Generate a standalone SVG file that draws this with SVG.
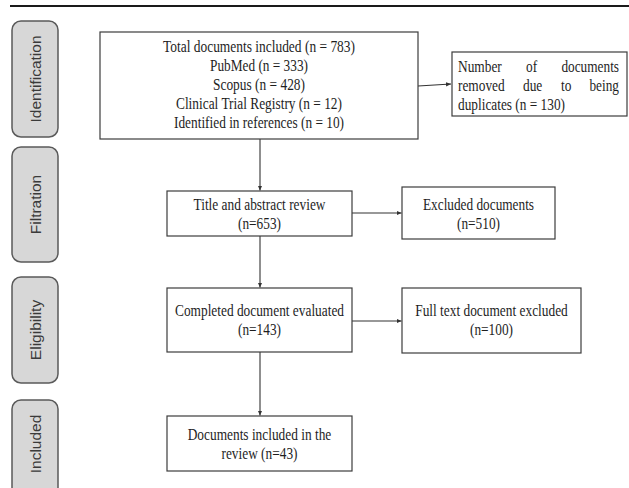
<svg xmlns="http://www.w3.org/2000/svg" width="629" height="488" viewBox="0 0 629 488">
<style>
.bg{fill:#ffffff}
.box{fill:#ffffff;stroke:#3c3c3c;stroke-width:1.2}
.pill{fill:#d7d7d7;stroke:#5a5a5a;stroke-width:1.5}
.t{font-family:"Liberation Serif","Times New Roman",serif;font-size:17.5px;fill:#1e1e1e}
.c{text-anchor:middle}
.e{text-anchor:end}
.s{font-family:"Liberation Sans",Arial,sans-serif;font-size:15.5px;fill:#3a3a3a;text-anchor:middle}
.conn{fill:none;stroke:#333333;stroke-width:1.1}
</style>
<defs>
<marker id="ah" markerWidth="6" markerHeight="6" refX="5" refY="3" orient="auto" markerUnits="userSpaceOnUse">
<path d="M0,0.8 L5,3 L0,5.2 Z" fill="#333333"/>
</marker>
</defs>
<rect class="bg" x="0" y="0" width="629" height="488"/>
<line x1="10" y1="6" x2="629" y2="6" stroke="#1a1a1a" stroke-width="2"/>

<g id="stage-identification">
<rect class="pill" x="12" y="21" width="46" height="116" rx="9"/>
<text class="s" transform="translate(40.5,79) rotate(-90)">Identification</text>
</g>
<g id="stage-filtration">
<rect class="pill" x="12" y="147" width="46" height="115" rx="9"/>
<text class="s" transform="translate(40.5,204.5) rotate(-90)">Filtration</text>
</g>
<g id="stage-eligibility">
<rect class="pill" x="12" y="277" width="46" height="106" rx="9"/>
<text class="s" transform="translate(40.5,330) rotate(-90)">Eligibility</text>
</g>
<g id="stage-included">
<rect class="pill" x="12" y="400" width="46" height="100" rx="9"/>
<text class="s" transform="translate(40.5,444) rotate(-90)">Included</text>
</g>

<g id="connectors">
<line class="conn" x1="418" y1="86" x2="451" y2="84" marker-end="url(#ah)"/>
<line class="conn" x1="260" y1="139" x2="260" y2="190.5" marker-end="url(#ah)"/>
<line class="conn" x1="352" y1="213" x2="401.5" y2="213" marker-end="url(#ah)"/>
<line class="conn" x1="260" y1="236" x2="260" y2="287.5" marker-end="url(#ah)"/>
<line class="conn" x1="352" y1="321" x2="401.5" y2="321" marker-end="url(#ah)"/>
<line class="conn" x1="260" y1="352" x2="260" y2="415.5" marker-end="url(#ah)"/>
</g>

<g id="node-total">
<rect class="box" x="100" y="32" width="318" height="107"/>
<text class="t c" x="259" y="52" textLength="192" lengthAdjust="spacingAndGlyphs">Total documents included (n = 783)</text>
<text class="t c" x="259" y="71" textLength="98" lengthAdjust="spacingAndGlyphs">PubMed (n = 333)</text>
<text class="t c" x="259" y="90" textLength="92" lengthAdjust="spacingAndGlyphs">Scopus (n = 428)</text>
<text class="t c" x="259" y="109" textLength="166" lengthAdjust="spacingAndGlyphs">Clinical Trial Registry (n = 12)</text>
<text class="t c" x="259" y="128" textLength="170" lengthAdjust="spacingAndGlyphs">Identified in references (n = 10)</text>
</g>

<g id="node-duplicates">
<rect class="box" x="452" y="52" width="175" height="64"/>
<text class="t" x="458" y="72" textLength="43.8" lengthAdjust="spacingAndGlyphs">Number</text>
<text class="t" x="526" y="72" textLength="11.1" lengthAdjust="spacingAndGlyphs">of</text>
<text class="t e" transform="translate(619,72) scale(0.76,1)" x="0" y="0">documents</text>
<text class="t" x="458" y="91" textLength="46.7" lengthAdjust="spacingAndGlyphs">removed</text>
<text class="t" x="523" y="91" textLength="19.3" lengthAdjust="spacingAndGlyphs">due</text>
<text class="t" x="561" y="91" textLength="10.4" lengthAdjust="spacingAndGlyphs">to</text>
<text class="t e" transform="translate(619,91) scale(0.76,1)" x="0" y="0">being</text>
<text class="t" x="458" y="110" textLength="107" lengthAdjust="spacingAndGlyphs">duplicates (n = 130)</text>
</g>

<g id="node-title-review">
<rect class="box" x="167" y="191" width="185" height="45"/>
<text class="t c" x="259.5" y="210" textLength="132" lengthAdjust="spacingAndGlyphs">Title and abstract review</text>
<text class="t c" x="259.5" y="229" textLength="43" lengthAdjust="spacingAndGlyphs">(n=653)</text>
</g>

<g id="node-excluded">
<rect class="box" x="402" y="187" width="153" height="52"/>
<text class="t c" x="478.5" y="210" textLength="111" lengthAdjust="spacingAndGlyphs">Excluded documents</text>
<text class="t c" x="478.5" y="229" textLength="43" lengthAdjust="spacingAndGlyphs">(n=510)</text>
</g>

<g id="node-completed">
<rect class="box" x="167" y="288" width="185" height="64"/>
<text class="t c" x="259.5" y="316" textLength="169" lengthAdjust="spacingAndGlyphs">Completed document evaluated</text>
<text class="t c" x="259.5" y="335" textLength="43" lengthAdjust="spacingAndGlyphs">(n=143)</text>
</g>

<g id="node-fulltext-excluded">
<rect class="box" x="402" y="288" width="179" height="65"/>
<text class="t c" x="491.5" y="316" textLength="152.5" lengthAdjust="spacingAndGlyphs">Full text document excluded</text>
<text class="t c" x="491.5" y="335" textLength="43" lengthAdjust="spacingAndGlyphs">(n=100)</text>
</g>

<g id="node-included">
<rect class="box" x="167" y="416" width="185" height="55"/>
<text class="t c" x="259.5" y="440" textLength="143.6" lengthAdjust="spacingAndGlyphs">Documents included in the</text>
<text class="t c" x="259.5" y="459" textLength="76" lengthAdjust="spacingAndGlyphs">review (n=43)</text>
</g>
</svg>
